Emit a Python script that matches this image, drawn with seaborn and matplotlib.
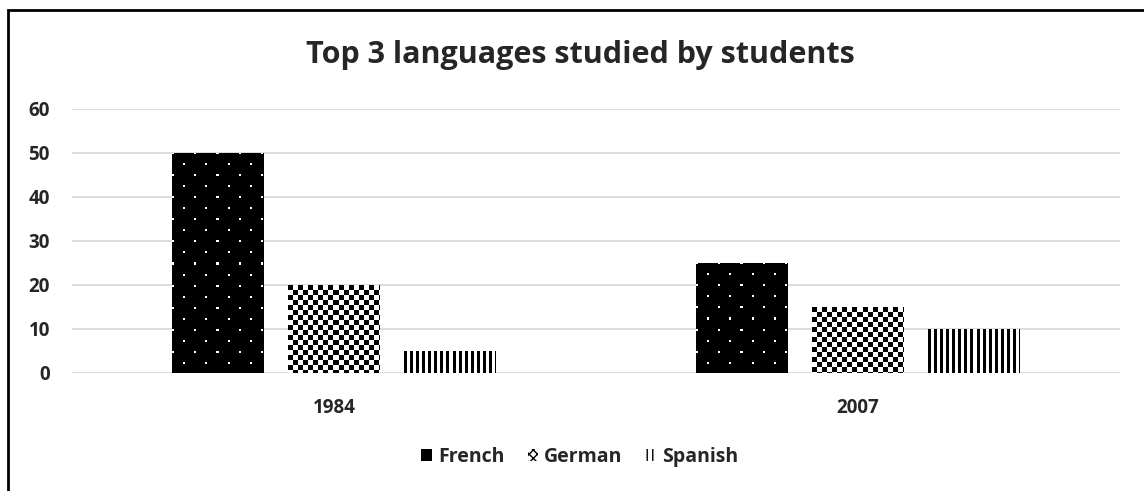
import numpy as np
import pandas as pd
import seaborn as sns
import matplotlib.pyplot as plt
from matplotlib.patches import Patch, Rectangle

# Données
years = ['1984', '2007']
languages = ['French', 'German', 'Spanish']
french = [50, 25]
german = [20, 15]
spanish = [5, 10]
y_ticks = [0, 10, 20, 30, 40, 50, 60]

df = pd.DataFrame({
    'Year': years * 3,
    'Language': ['French'] * 2 + ['German'] * 2 + ['Spanish'] * 2,
    'Value': french + german + spanish,
})

sns.set_style('white')
plt.rcParams['font.family'] = ['Open Sans', 'DejaVu Sans']
plt.rcParams['font.weight'] = 'bold'

fig = plt.figure(figsize=(11.44, 4.91), dpi=100)
ax = fig.add_axes([72 / 1144, 1 - 373 / 491, (1120 - 72) / 1144, (373 - 109) / 491])

sns.barplot(data=df, x='Year', y='Value', hue='Language', hue_order=languages,
            palette=['black', 'white', 'white'], width=0.663, gap=0.21,
            linewidth=0, legend=False, ax=ax, zorder=2)

ax.set_ylim(0, 60)
ax.set_xlim(-0.5, 1.5)
ax.set_yticks(y_ticks)
ax.grid(axis='y', color='#d9d9d9', linewidth=1.3, zorder=0)
ax.set_axisbelow(True)
sns.despine(ax=ax, left=True, bottom=True)
ax.tick_params(axis='y', length=0, pad=16, labelsize=13.5)
ax.tick_params(axis='x', length=0, pad=18, labelsize=13.5)
for lab in ax.get_xticklabels() + ax.get_yticklabels():
    lab.set_fontweight('bold')
ax.set_xlabel('')
ax.set_ylabel('')


# Motifs de remplissage (style Excel)
def dots(h, w):
    yy, xx = np.mgrid[0:h, 0:w]
    row = yy // 11
    return (((yy % 11) < 2) & (((xx + (row % 2) * 11) % 22) < 2)).astype(float)


def checker(h, w):
    yy, xx = np.mgrid[0:h, 0:w]
    return ((xx // 5 + yy // 5) % 2).astype(float)


def stripes(h, w):
    yy, xx = np.mgrid[0:h, 0:w]
    return ((xx % 6) >= 3).astype(float)


fig.canvas.draw()
for container, pattern in zip(ax.containers, [dots, checker, stripes]):
    for bar in container:
        x0, y0 = bar.get_x(), bar.get_y()
        x1, y1 = x0 + bar.get_width(), y0 + bar.get_height()
        bb = bar.get_window_extent()
        w, h = max(int(round(bb.width)), 1), max(int(round(bb.height)), 1)
        img = pattern(h, w)
        im = ax.imshow(img, cmap='gray', vmin=0, vmax=1, origin='upper',
                       extent=(x0, x1, y0, y1), aspect='auto',
                       interpolation='nearest', zorder=2.5)
        im.set_clip_path(bar)

ax.set_ylim(0, 60)
ax.set_xlim(-0.5, 1.5)

fig.text(580 / 1144, 1 - 55 / 491, 'Top 3 languages studied by students',
         ha='center', va='center', fontsize=22, fontweight='bold')

handles = [
    Patch(facecolor='black', edgecolor='black', linewidth=0),
    Patch(facecolor='white', edgecolor='black', hatch='xxxx', linewidth=0),
    Patch(facecolor='white', edgecolor='black', hatch='|||', linewidth=0),
]
fig.legend(handles, languages, loc='center', bbox_to_anchor=(580 / 1144, 1 - 457 / 491),
           ncol=3, frameon=False, handlelength=0.55, handleheight=0.55,
           handletextpad=0.3, columnspacing=1.2, prop={'weight': 'bold', 'size': 14})

# Cadre de la figure
fig.add_artist(Rectangle((8 / 1144, -0.2), 1.2, 1.2 - 10 / 491, transform=fig.transFigure,
                         fill=False, edgecolor='black', linewidth=2))

fig.savefig('out.png', dpi=100)
